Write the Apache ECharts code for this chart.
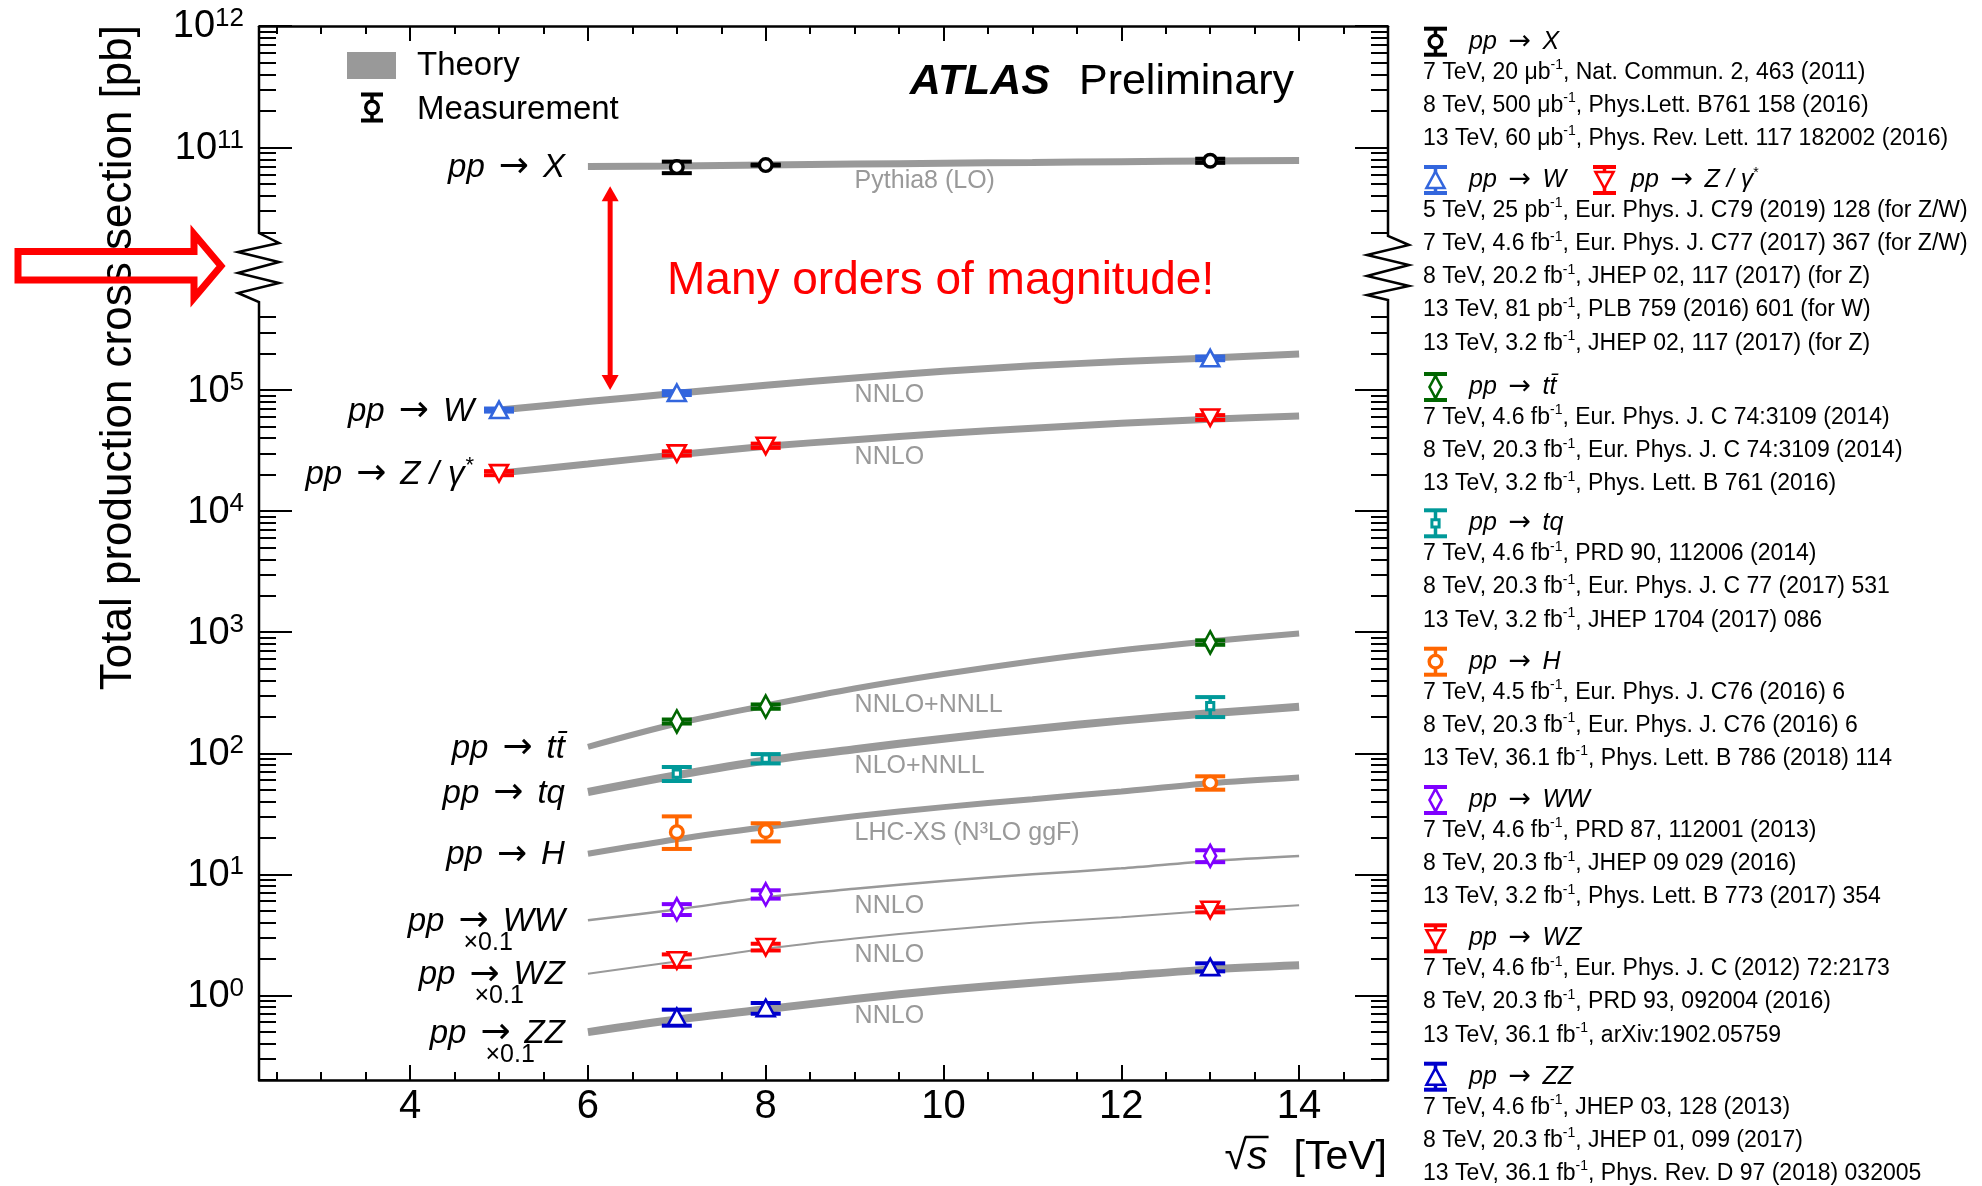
<!DOCTYPE html>
<html>
<head>
<meta charset="utf-8">
<title>Total production cross sections</title>
<script src="https://cdn.jsdelivr.net/npm/echarts@6.0.0/dist/echarts.min.js"></script>
<style>
  html, body { margin: 0; padding: 0; background: #ffffff; }
  #chart { width: 1982px; height: 1186px; }
</style>
</head>
<body>
<div id="chart"></div>
<script>
// ---------------- centre-of-mass energies [TeV] ----------------
const theorySqrtS = [6, 7, 8, 9, 10, 11, 12, 13, 14];
const theorySqrtSVector = [5, 6, 7, 8, 9, 10, 11, 12, 13, 14];

// ---------------- theory predictions [pb] ----------------
const theoryInel = [6.98e10, 7.05e10, 7.17e10, 7.3e10, 7.42e10, 7.53e10, 7.65e10, 7.76e10, 7.82e10];
const theoryW = [6.84e4, 8.04e4, 9.4e4, 1.096e5, 1.259e5, 1.429e5, 1.585e5, 1.718e5, 1.841e5, 1.986e5];
const theoryZ = [2.06e4, 2.45e4, 2.92e4, 3.43e4, 3.89e4, 4.37e4, 4.84e4, 5.31e4, 5.75e4, 6.1e4];
const theoryTT = [113, 176, 248, 343, 452, 575, 708, 841, 977];
const theoryTQ = [47.9, 65.8, 87.1, 108, 132, 158, 186, 214, 242];
const theoryH = [14.8, 19.5, 24.6, 30.2, 35.9, 41.7, 48.4, 56.5, 63.0];
const theoryWW = [4.17, 5.13, 6.46, 7.59, 8.81, 10.0, 11.2, 12.9, 14.2];   // x 0.1
const theoryWZ = [1.51, 1.905, 2.43, 2.95, 3.47, 3.98, 4.42, 5.01, 5.54]; // x 0.1
const theoryZZ = [0.497, 0.631, 0.767, 0.933, 1.109, 1.274, 1.445, 1.64, 1.77]; // x 0.1

// ---------------- measurements [pb] ----------------
const inelSqrtS = [7, 8, 13];
const inelXsec = [6.9e10, 7.17e10, 7.78e10];
const inelErr = [0.75e10, 0.06e10, 0.3e10];

const wSqrtS = [5, 7, 13];
const wXsec = [6.84e4, 9.45e4, 1.83e5];
const wErr = [0.2e4, 0.35e4, 0.065e5];

const zSqrtS = [5, 7, 8, 13];
const zXsec = [2.06e4, 3.0e4, 3.47e4, 5.94e4];
const zErr = [0.08e4, 0.12e4, 0.14e4, 0.27e4];

const ttSqrtS = [7, 8, 13];
const ttXsec = [183, 243, 822];
const ttErr = [7, 10, 35];

const tqSqrtS = [7, 8, 13];
const tqXsec = [68, 90.4, 245];
const tqErr = [9, 8, 46];

const hSqrtS = [7, 8, 13];
const hXsec = [22.3, 22.7, 57];
const hErrDown = [6.1, 4.0, 7.0];
const hErrUp = [7.8, 3.7, 7.5];

const wwSqrtS = [7, 8, 13];
const wwXsec = [5.14, 6.84, 14.2];   // x 0.1
const wwErr = [0.53, 0.54, 1.6];

const wzSqrtS = [7, 8, 13];
const wzXsec = [1.95, 2.51, 5.1];    // x 0.1
const wzErr = [0.23, 0.16, 0.25];

const zzSqrtS = [7, 8, 13];
const zzXsec = [0.662, 0.785, 1.71]; // x 0.1
const zzErr = [0.1, 0.08, 0.13];

// ---------------- axis tick labels ----------------
const xTickLabels = [4, 6, 8, 10, 12, 14];
const yDecadesUpper = [1e11, 1e12];
const yDecadesLower = [1, 10, 100, 1e3, 1e4, 1e5];

// ---------------- references ----------------
const refInel = ['7 TeV, 20 μb^-1, Nat. Commun. 2, 463 (2011)', '8 TeV, 500 μb^-1, Phys.Lett. B761 158 (2016)', '13 TeV, 60 μb^-1, Phys. Rev. Lett. 117 182002 (2016)'];
const refVector = ['5 TeV, 25 pb^-1, Eur. Phys. J. C79 (2019) 128 (for Z/W)', '7 TeV, 4.6 fb^-1, Eur. Phys. J. C77 (2017) 367 (for Z/W)', '8 TeV, 20.2 fb^-1, JHEP 02, 117 (2017) (for Z)', '13 TeV, 81 pb^-1, PLB 759 (2016) 601 (for W)', '13 TeV, 3.2 fb^-1, JHEP 02, 117 (2017) (for Z)'];
const refTT = ['7 TeV, 4.6 fb^-1, Eur. Phys. J. C 74:3109 (2014)', '8 TeV, 20.3 fb^-1, Eur. Phys. J. C 74:3109 (2014)', '13 TeV, 3.2 fb^-1, Phys. Lett. B 761 (2016)'];
const refTQ = ['7 TeV, 4.6 fb^-1, PRD 90, 112006 (2014)', '8 TeV, 20.3 fb^-1, Eur. Phys. J. C 77 (2017) 531', '13 TeV, 3.2 fb^-1, JHEP 1704 (2017) 086'];
const refH = ['7 TeV, 4.5 fb^-1, Eur. Phys. J. C76 (2016) 6', '8 TeV, 20.3 fb^-1, Eur. Phys. J. C76 (2016) 6', '13 TeV, 36.1 fb^-1, Phys. Lett. B 786 (2018) 114'];
const refWW = ['7 TeV, 4.6 fb^-1, PRD 87, 112001 (2013)', '8 TeV, 20.3 fb^-1, JHEP 09 029 (2016)', '13 TeV, 3.2 fb^-1, Phys. Lett. B 773 (2017) 354'];
const refWZ = ['7 TeV, 4.6 fb^-1, Eur. Phys. J. C (2012) 72:2173', '8 TeV, 20.3 fb^-1, PRD 93, 092004 (2016)', '13 TeV, 36.1 fb^-1, arXiv:1902.05759'];
const refZZ = ['7 TeV, 4.6 fb^-1, JHEP 03, 128 (2013)', '8 TeV, 20.3 fb^-1, JHEP 01, 099 (2017)', '13 TeV, 36.1 fb^-1, Phys. Rev. D 97 (2018) 032005'];

// ---------------- styling ----------------
const FONT = '"Liberation Sans", Arial, Helvetica, sans-serif';
const ARROW_FONT = '"DejaVu Sans", sans-serif';
const BAND_GREY = '#999999';
const GRID_LEFT = 259, GRID_WIDTH = 1129;
const X_MIN = 2.3, X_MAX = 15;

// panel 0 = upper (broken-off) part of the y axis, panel 1 = lower part
const processes = [
  { target: 'X', panel: 0, sqrtS: theorySqrtS, theory: theoryInel, band: 7, color: '#000000', marker: 'circle',
    m: [inelSqrtS, inelXsec, inelErr, inelErr], theoryLabel: 'Pythia8 (LO)' },
  { target: 'W', panel: 1, sqrtS: theorySqrtSVector, theory: theoryW, band: 7, color: '#3366dd', marker: 'triangleUp',
    m: [wSqrtS, wXsec, wErr, wErr], theoryLabel: 'NNLO' },
  { target: 'Z / γ', star: true, panel: 1, sqrtS: theorySqrtSVector, theory: theoryZ, band: 7, color: '#ff0000', marker: 'triangleDown',
    m: [zSqrtS, zXsec, zErr, zErr], theoryLabel: 'NNLO' },
  { target: 't' + 't\u0304', panel: 1, sqrtS: theorySqrtS, theory: theoryTT, band: 6, color: '#006600', marker: 'diamond',
    m: [ttSqrtS, ttXsec, ttErr, ttErr], theoryLabel: 'NNLO+NNLL' },
  { target: 'tq', panel: 1, sqrtS: theorySqrtS, theory: theoryTQ, band: 8, color: '#009999', marker: 'square',
    m: [tqSqrtS, tqXsec, tqErr, tqErr], theoryLabel: 'NLO+NNLL' },
  { target: 'H', panel: 1, sqrtS: theorySqrtS, theory: theoryH, band: 6, color: '#ff6600', marker: 'circle',
    m: [hSqrtS, hXsec, hErrDown, hErrUp], theoryLabel: 'LHC-XS (N³LO ggF)' },
  { target: 'WW', scaled: true, panel: 1, sqrtS: theorySqrtS, theory: theoryWW, band: 2.5, color: '#7f00ff', marker: 'diamond',
    m: [wwSqrtS, wwXsec, wwErr, wwErr], theoryLabel: 'NNLO' },
  { target: 'WZ', scaled: true, panel: 1, sqrtS: theorySqrtS, theory: theoryWZ, band: 2, color: '#ff0000', marker: 'triangleDown',
    m: [wzSqrtS, wzXsec, wzErr, wzErr], theoryLabel: 'NNLO' },
  { target: 'ZZ', scaled: true, panel: 1, sqrtS: theorySqrtS, theory: theoryZZ, band: 8, color: '#0000cc', marker: 'triangleUp',
    m: [zzSqrtS, zzXsec, zzErr, zzErr], theoryLabel: 'NNLO' }
];

// ---------------- marker / error-bar glyphs ----------------
function markerElement(shape, cx, cy, color) {
  const st = { fill: '#ffffff', stroke: color, lineWidth: 2.6, lineJoin: 'miter' };
  switch (shape) {
    case 'circle':
      return { type: 'circle', shape: { cx: cx, cy: cy, r: 6.3 }, style: Object.assign({}, st, { lineWidth: 3.4 }) };
    case 'triangleUp':
      return { type: 'polygon', shape: { points: [[cx, cy - 8.5], [cx + 9, cy + 8], [cx - 9, cy + 8]] }, style: st };
    case 'triangleDown':
      return { type: 'polygon', shape: { points: [[cx, cy + 8.5], [cx + 9, cy - 8], [cx - 9, cy - 8]] }, style: st };
    case 'diamond':
      return { type: 'polygon', shape: { points: [[cx, cy - 11], [cx + 6, cy], [cx, cy + 11], [cx - 6, cy]] }, style: st };
    default:
      return { type: 'rect', shape: { x: cx - 3.6, y: cy - 3.6, width: 7.2, height: 7.2 }, style: Object.assign({}, st, { lineWidth: 3 }) };
  }
}

function errorGlyph(cx, cy, yHigh, yLow, shape, color, capWidth) {
  const capH = 4;
  return [
    { type: 'line', shape: { x1: cx, y1: yHigh, x2: cx, y2: yLow }, style: { stroke: color, lineWidth: 3.5 } },
    { type: 'rect', shape: { x: cx - capWidth / 2, y: yHigh - capH / 2, width: capWidth, height: capH }, style: { fill: color } },
    { type: 'rect', shape: { x: cx - capWidth / 2, y: yLow - capH / 2, width: capWidth, height: capH }, style: { fill: color } },
    markerElement(shape, cx, cy, color)
  ];
}

function measurementRenderer(shape, color) {
  return function (params, api) {
    const s = api.value(0);
    const c = api.coord([s, api.value(1)]);
    const lo = api.coord([s, api.value(2)]);
    const hi = api.coord([s, api.value(3)]);
    return { type: 'group', children: errorGlyph(c[0], c[1], hi[1], lo[1], shape, color, 30) };
  };
}

// ---------------- axes ----------------
const xMinorTicks = [];
for (let v = 2.5; v <= X_MAX + 1e-9; v += 0.5) xMinorTicks.push(v);

function minorDecadeTicks(decades, lo, hi) {
  const out = [];
  decades.forEach(function (d) {
    for (let m = 2; m <= 9; m++) {
      const v = m * d;
      if (v >= lo && v <= hi) out.push(v);
    }
  });
  return out;
}
const yMinorUpper = minorDecadeTicks([1e10, 1e11], 1.9e10, 1e12);
const yMinorLower = minorDecadeTicks([0.1, 1, 10, 100, 1e3, 1e4, 1e5], 0.2, 4.1e5);

const TICK_LINE = { color: '#000000', width: 2 };

function xAxisDef(gridIndex, position, ticks, tickLen, withLabels, withLine) {
  return {
    type: 'value', gridIndex: gridIndex, position: position, min: X_MIN, max: X_MAX,
    axisLine: { show: withLine, onZero: false, lineStyle: { color: '#000000', width: 2.5 } },
    axisTick: { show: true, inside: true, length: tickLen, customValues: ticks, lineStyle: TICK_LINE },
    axisLabel: withLabels
      ? { show: true, customValues: xTickLabels, margin: 7, fontSize: 40, lineHeight: 40, fontFamily: FONT, color: '#000000' }
      : { show: false },
    splitLine: { show: false }
  };
}

function decadeLabel(val) {
  const e = Math.round(Math.log10(val));
  return '{b|10}{s|' + e + '}';
}

function yAxisDef(gridIndex, position, min, max, ticks, tickLen, labels) {
  return {
    type: 'log', logBase: 10, gridIndex: gridIndex, position: position, min: min, max: max,
    axisLine: { show: false },
    axisTick: { show: true, inside: true, length: tickLen, customValues: ticks, lineStyle: TICK_LINE },
    axisLabel: labels
      ? { show: true, customValues: labels, margin: 15, formatter: decadeLabel,
          rich: {
            b: { fontSize: 38, lineHeight: 40, fontFamily: FONT, color: '#000000', verticalAlign: 'bottom' },
            s: { fontSize: 26, lineHeight: 34, fontFamily: FONT, color: '#000000', verticalAlign: 'top' }
          } }
      : { show: false },
    splitLine: { show: false }
  };
}

const xAxes = [
  xAxisDef(0, 'top', xTickLabels, 15, false, true),
  xAxisDef(0, 'top', xMinorTicks, 8, false, false),
  xAxisDef(1, 'bottom', xTickLabels, 15, true, true),
  xAxisDef(1, 'bottom', xMinorTicks, 8, false, false)
];
const yAxes = [
  yAxisDef(0, 'left', 1e10, 1e12, yDecadesUpper, 33, yDecadesUpper),
  yAxisDef(0, 'left', 1e10, 1e12, yMinorUpper, 17, null),
  yAxisDef(0, 'right', 1e10, 1e12, yDecadesUpper, 33, null),
  yAxisDef(0, 'right', 1e10, 1e12, yMinorUpper, 17, null),
  yAxisDef(1, 'left', 0.2, 1e6, yDecadesLower, 33, yDecadesLower),
  yAxisDef(1, 'left', 0.2, 1e6, yMinorLower, 17, null),
  yAxisDef(1, 'right', 0.2, 1e6, yDecadesLower, 33, null),
  yAxisDef(1, 'right', 0.2, 1e6, yMinorLower, 17, null)
];

// ---------------- series ----------------
const series = [];
processes.forEach(function (p) {
  const xi = p.panel === 0 ? 0 : 2;
  const yi = p.panel === 0 ? 0 : 4;
  series.push({
    type: 'line', xAxisIndex: xi, yAxisIndex: yi, silent: true, z: 2,
    data: p.sqrtS.map(function (s, i) { return [s, p.theory[i]]; }),
    smooth: 0.3, showSymbol: false, symbol: 'none',
    lineStyle: { color: BAND_GREY, width: p.band, cap: 'butt' }
  });
});
processes.forEach(function (p) {
  const xi = p.panel === 0 ? 0 : 2;
  const yi = p.panel === 0 ? 0 : 4;
  const s = p.m[0], v = p.m[1], dn = p.m[2], up = p.m[3];
  series.push({
    type: 'custom', xAxisIndex: xi, yAxisIndex: yi, silent: true, z: 3, clip: false,
    encode: { x: 0, y: 1 },
    data: s.map(function (e, i) { return [e, v[i], v[i] - dn[i], v[i] + up[i]]; }),
    renderItem: measurementRenderer(p.marker, p.color)
  });
});

const chart = echarts.init(document.getElementById('chart'));
chart.setOption({
  animation: false,
  backgroundColor: '#ffffff',
  textStyle: { fontFamily: FONT },
  grid: [
    { left: GRID_LEFT, width: GRID_WIDTH, top: 26, height: 243 },
    { left: GRID_LEFT, width: GRID_WIDTH, top: 269, height: 811 }
  ],
  xAxis: xAxes,
  yAxis: yAxes,
  series: series
});

// ---------------- annotations ----------------
const measureCtx = document.createElement('canvas').getContext('2d');
function textWidth(str, font) { measureCtx.font = font; return measureCtx.measureText(str).width; }
function italic(size) { return 'italic ' + size + 'px ' + FONT; }
function upright(size) { return size + 'px ' + FONT; }
function arrowFont(size) { return size + 'px ' + ARROW_FONT; }

function txt(str, x, y, font, align, color, extra) {
  return {
    type: 'text', x: x, y: y, silent: true, z: 10,
    style: Object.assign({
      text: str, font: font, fill: color || '#000000',
      textAlign: align || 'left', textVerticalAlign: 'middle',
      align: align || 'left', verticalAlign: 'middle'
    }, extra || {})
  };
}

function px(panel, s, v) {
  return chart.convertToPixel({ xAxisIndex: panel === 0 ? 0 : 2, yAxisIndex: panel === 0 ? 0 : 4 }, [s, v]);
}

const els = [];

// frame sides with the zig-zag marking the broken axis
els.push({ type: 'polyline', silent: true, z: 5, shape: { points: [[259, 26], [259, 233], [279, 243], [238, 252], [279, 262], [238, 273], [279, 283], [238, 293], [259, 302], [259, 1080]] },
  style: { stroke: '#000000', lineWidth: 2.5, fill: null } });
els.push({ type: 'polyline', silent: true, z: 5, shape: { points: [[1388, 26], [1388, 236], [1409, 245], [1367, 255], [1409, 265], [1367, 276], [1409, 286], [1367, 295], [1388, 300], [1388, 1080]] },
  style: { stroke: '#000000', lineWidth: 2.5, fill: null } });

// process names at the start of each curve, theory labels under each curve
const PL = 33, PA = 36, GAP = 14;
processes.forEach(function (p) {
  const s0 = p.sqrtS[0];
  const start = px(p.panel, s0, p.theory[0]);
  const right = start[0] - (s0 === 5 ? 25 : 23);
  const cy = start[1] + 1.5;
  let x = right;
  if (p.star) {
    els.push(txt('*', x, cy - 9, upright(22), 'right'));
    x -= textWidth('*', upright(22)) + 1;
  }
  els.push(txt(p.target, x, cy, italic(PL), 'right'));
  x -= textWidth(p.target, italic(PL)) + GAP;
  els.push(txt('→', x, cy, arrowFont(PA), 'right'));
  const aw = textWidth('→', arrowFont(PA));
  if (p.scaled) els.push(txt('×0.1', x - aw + 5, cy + 21, upright(25), 'left'));
  x -= aw + GAP;
  els.push(txt('pp', x, cy, italic(PL), 'right'));

  const i9 = p.sqrtS.indexOf(9);
  const at9 = px(p.panel, 9, p.theory[i9]);
  els.push(txt(p.theoryLabel, at9[0], at9[1] + 17, upright(25), 'left', BAND_GREY));
});

// theory / measurement key
els.push({ type: 'rect', silent: true, shape: { x: 347, y: 52, width: 49, height: 27 }, style: { fill: BAND_GREY } });
els.push(txt('Theory', 417, 66, upright(33), 'left'));
els.push({ type: 'group', silent: true, children: errorGlyph(372, 107.5, 94.5, 120.5, 'circle', '#000000', 22) });
els.push(txt('Measurement', 417, 110, upright(33), 'left'));

// experiment label
els.push(txt('ATLAS', 1050, 82, 'italic bold 43px ' + FONT, 'right'));
els.push(txt('Preliminary', 1294, 82, upright(43), 'right'));

// span between the inelastic and the W cross sections
const arrowTop = px(0, 6.25, 4.8e10);
const arrowBottom = px(1, 6.25, 1e5);
const ax = arrowTop[0];
els.push({ type: 'line', silent: true, shape: { x1: ax, y1: arrowTop[1] + 12, x2: ax, y2: arrowBottom[1] - 12 }, style: { stroke: '#ff0000', lineWidth: 5 } });
els.push({ type: 'polygon', silent: true, shape: { points: [[ax, arrowTop[1]], [ax + 8.5, arrowTop[1] + 15], [ax - 8.5, arrowTop[1] + 15]] }, style: { fill: '#ff0000' } });
els.push({ type: 'polygon', silent: true, shape: { points: [[ax, arrowBottom[1]], [ax + 8.5, arrowBottom[1] - 15], [ax - 8.5, arrowBottom[1] - 15]] }, style: { fill: '#ff0000' } });
els.push(txt('Many orders of magnitude!', 667, 281, upright(46), 'left', '#ff0000'));

// open arrow pointing at the axis break
els.push({ type: 'polygon', silent: true, z: 6, shape: { points: [[18, 251.5], [194, 251.5], [194, 234], [221, 266], [194, 298], [194, 280], [18, 280]] },
  style: { fill: null, stroke: '#ff0000', lineWidth: 7, lineJoin: 'miter', miterLimit: 10 } });

// axis titles
els.push({ type: 'text', silent: true, x: 119, y: 25, rotation: Math.PI / 2,
  style: { text: 'Total production cross section [pb]', font: upright(44), fill: '#000000', textAlign: 'right', textVerticalAlign: 'middle', align: 'right', verticalAlign: 'middle' } });
const tevRight = 1387, titleY = 1158;
els.push(txt('[TeV]', tevRight, titleY, upright(41), 'right'));
const sRight = tevRight - textWidth('[TeV]', upright(41)) - 26;
const sW = textWidth('s', italic(41));
els.push(txt('s', sRight, titleY, italic(41), 'right'));
els.push(txt('√', sRight - sW, titleY, upright(41), 'right'));
els.push({ type: 'line', silent: true, shape: { x1: sRight - sW - 2, y1: 1137, x2: sRight + 1, y2: 1137 }, style: { stroke: '#000000', lineWidth: 2.5 } });

// reference list
const RICH = {
  t: { fontSize: 23, lineHeight: 28, fontFamily: FONT, color: '#000000' },
  s: { fontSize: 14, lineHeight: 14, fontFamily: FONT, color: '#000000', verticalAlign: 'top' },
  i: { fontSize: 25, lineHeight: 28, fontFamily: FONT, fontStyle: 'italic', color: '#000000' },
  n: { fontSize: 27, lineHeight: 28, fontFamily: ARROW_FONT, color: '#000000', padding: [0, 3, 0, 3] }
};
function richRef(line) {
  return line.split('^-1').map(function (part) { return '{t|' + part + '}'; }).join('{s|-1}');
}
function richHeader(target, star) {
  return '{i|pp}{n| → }{i|' + target + '}' + (star ? '{s|*}' : '');
}
function richText(str, x, y) {
  return { type: 'text', x: x, y: y, silent: true, z: 10,
    style: { text: str, rich: RICH, textAlign: 'left', textVerticalAlign: 'middle', align: 'left', verticalAlign: 'middle' } };
}

const GLYPH_X = 1435.5, HEAD_X = 1469, REF_X = 1423;
const blocks = [
  { y: 41.7, heads: [[processes[0], 'X']], refs: refInel },
  { y: 180, heads: [[processes[1], 'W'], [processes[2], 'Z / γ', true]], refs: refVector },
  { y: 387, heads: [[processes[3], 't' + 't\u0304']], refs: refTT },
  { y: 523.3, heads: [[processes[4], 'tq']], refs: refTQ },
  { y: 661.7, heads: [[processes[5], 'H']], refs: refH },
  { y: 800, heads: [[processes[6], 'WW']], refs: refWW },
  { y: 938.3, heads: [[processes[7], 'WZ']], refs: refWZ },
  { y: 1076.7, heads: [[processes[8], 'ZZ']], refs: refZZ }
];
blocks.forEach(function (b) {
  b.heads.forEach(function (h, k) {
    const gx = k === 0 ? GLYPH_X : 1604.5;
    const tx = k === 0 ? HEAD_X : 1631;
    els.push({ type: 'group', silent: true, children: errorGlyph(gx, b.y, b.y - 13, b.y + 13, h[0].marker, h[0].color, 23) });
    els.push(richText(richHeader(h[1], h[2]), tx, b.y));
  });
  b.refs.forEach(function (line, j) {
    els.push(richText(richRef(line), REF_X, b.y + 30.5 + j * 33.2));
  });
});

chart.setOption({ graphic: { elements: els } });
</script>
</body>
</html>
